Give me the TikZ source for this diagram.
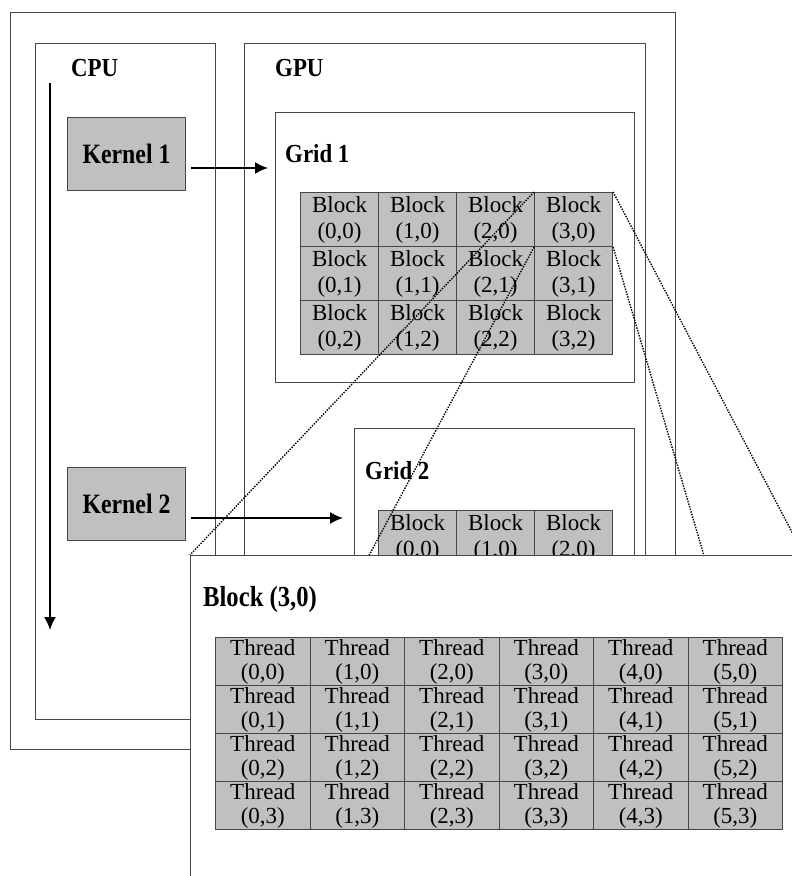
\documentclass[tikz,border=0pt]{standalone}
\usepackage{fontspec}
\setmainfont{Liberation Serif}
\newfontfamily\titleFont[FakeStretch=0.88]{Liberation Serif}
\newfontfamily\narrowFont[FakeStretch=0.85]{Liberation Serif}
\usetikzlibrary{positioning, arrows.meta}
\tikzstyle{diagram} = [x = 1pt, y = -1pt]
\definecolor{cellGray}{RGB}{192,192,192}
\definecolor{frameColor}{RGB}{70,70,70}
\tikzstyle{frameStyle} = [draw=frameColor, line width=1pt]
\tikzstyle{titleText} = [font=\titleFont\fontsize{26}{28}\selectfont\bfseries, anchor=base west, inner sep=0pt]
\tikzstyle{kernelStyle} = [draw=frameColor, fill=cellGray, line width=1pt, minimum width=118pt, minimum height=73pt, anchor=north west, font=\narrowFont\fontsize{28}{30}\selectfont\bfseries]
\tikzstyle{blockCellStyle} = [draw=frameColor, fill=cellGray, line width=1.1pt, inner sep=0pt, align=center, anchor=north west, minimum width=78pt, minimum height=54pt, font=\fontsize{23}{26}\selectfont]
\tikzstyle{threadCellStyle} = [draw=frameColor, fill=cellGray, line width=1.1pt, inner sep=0pt, align=center, anchor=north west, minimum width=94.5pt, minimum height=48pt, font=\fontsize{23}{24}\selectfont]
\tikzstyle{flowArrow} = [-{Latex[length=13pt, width=12pt]}, line width=1.5pt]
\tikzstyle{zoomLine} = [dash pattern=on 1.4pt off 1.3pt, line width=1.4pt]
\newcommand{\frameBox}[4]{\draw [frameStyle] (#1, #2) rectangle (#3, #4);}

\begin{document}
\begin{tikzpicture}[diagram]
  \useasboundingbox (0, 0) rectangle (792, 876);
  \clip (0, 0) rectangle (792, 876);

  % host and device frames
  \frameBox{10}{12}{675}{749}
  \frameBox{35}{43}{215}{719}
  \frameBox{244}{43}{645}{719}
  \node [titleText] (cpuLabel) at (71, 76) {CPU};
  \node [titleText] (gpuLabel) at (275, 76) {GPU};

  % kernels
  \coordinate (timeStart) at (50, 83);
  \coordinate (timeEnd) at (50, 630);
  \draw [flowArrow] (timeStart) -- (timeEnd);
  \node [kernelStyle] (kernelOne) at (67, 117) {Kernel 1};
  \node [kernelStyle] (kernelTwo) at (67, 467) {Kernel 2};

  % grid 1
  \frameBox{275}{112}{634}{382}
  \node [titleText] (gridOneLabel) at (285, 162) {Grid 1};
  \coordinate (gridOneIn) at (268, 168);
  \draw [flowArrow] (kernelOne.east |- gridOneIn) ++(5, 0) -- (gridOneIn);
  \foreach \column in {0,...,3} {
    \foreach \row in {0,...,2} {
      \pgfmathsetmacro{\cellX}{300 + 78 * \column}
      \pgfmathsetmacro{\cellY}{192 + 54 * \row}
      \node [blockCellStyle] (gridOne-\column-\row) at (\cellX, \cellY) {Block\\(\column,\row)};
    }
  }

  % grid 2
  \frameBox{354}{428}{634}{720}
  \node [titleText] (gridTwoLabel) at (365, 479) {Grid 2};
  \coordinate (gridTwoIn) at (343, 518);
  \draw [flowArrow] (kernelTwo.east |- gridTwoIn) ++(5, 0) -- (gridTwoIn);
  \foreach \column in {0,...,2} {
    \foreach \row in {0,...,1} {
      \pgfmathsetmacro{\cellX}{378 + 78 * \column}
      \pgfmathsetmacro{\cellY}{510 + 54 * \row}
      \node [blockCellStyle] (gridTwo-\column-\row) at (\cellX, \cellY) {Block\\(\column,\row)};
    }
  }

  % zoom into block (3,0)
  \coordinate (zoomNW) at (190, 555);
  \coordinate (zoomNE) at (804, 555);
  \coordinate (zoomSW) at (190, 890);
  \coordinate (zoomSE) at (804, 895);
  \draw [zoomLine] (gridOne-3-0.north west) -- (zoomNW);
  \draw [zoomLine] (gridOne-3-0.north east) -- (zoomNE);
  \draw [zoomLine] (gridOne-3-0.south west) -- (zoomSW);
  \draw [zoomLine] (gridOne-3-0.south east) -- (zoomSE);
  \filldraw [frameStyle, fill=white] (zoomNW) rectangle (zoomSE);
  \node [titleText, font=\narrowFont\fontsize{29}{30}\selectfont\bfseries] (blockLabel) at (203, 606) {Block (3,0)};
  \foreach \column in {0,...,5} {
    \foreach \row in {0,...,3} {
      \pgfmathsetmacro{\cellX}{215 + 94.5 * \column}
      \pgfmathsetmacro{\cellY}{637 + 48 * \row}
      \node [threadCellStyle] (thread-\column-\row) at (\cellX, \cellY) {Thread\\(\column,\row)};
    }
  }
\end{tikzpicture}
\end{document}
